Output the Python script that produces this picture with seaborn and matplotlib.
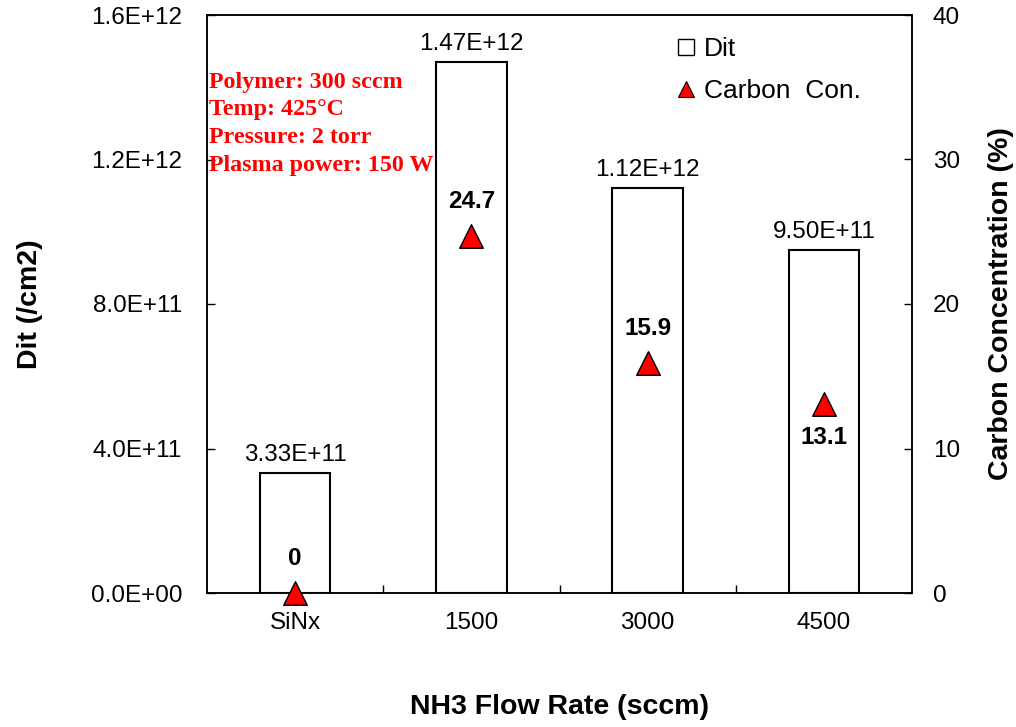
import numpy as np
import pandas as pd
import matplotlib
matplotlib.use("Agg")
import matplotlib.pyplot as plt
from matplotlib.lines import Line2D
from matplotlib.ticker import FuncFormatter, MultipleLocator, FixedLocator
import seaborn as sns

# Data
categories = ["SiNx", "1500", "3000", "4500"]
dit_values = [3.33e11, 1.47e12, 1.12e12, 9.50e11]
carbon_values = [0.0, 24.7, 15.9, 13.1]
carbon_label_above = [True, True, True, False]
process_notes = ["Polymer: 300 sccm", "Temp: 425\u00b0C", "Pressure: 2 torr", "Plasma power: 150 W"]

sns.set_style("ticks")
plt.rcParams["font.family"] = ["Liberation Sans", "DejaVu Sans"]
plt.rcParams.update({"text.color": "black", "axes.labelcolor": "black",
                     "xtick.color": "black", "ytick.color": "black",
                     "axes.edgecolor": "black"})

fig = plt.figure(figsize=(10.16, 7.27), dpi=100)
W, H = 1016, 727
ax = fig.add_axes([207 / W, 1 - 593 / H, (912 - 207) / W, (593 - 15) / H])

df = pd.DataFrame({"cat": categories, "dit": dit_values})
sns.barplot(data=df, x="cat", y="dit", color="white", edgecolor="black",
            linewidth=1.5, width=0.4, saturation=1, ax=ax)
for p in ax.patches:
    p.set_facecolor("white")

ax.set_xlim(-0.5, len(categories) - 0.5)
ax.set_ylim(0, 1.6e12)
ax.yaxis.set_major_locator(MultipleLocator(4e11))
ax.yaxis.set_major_formatter(FuncFormatter(lambda v, _: f"{v:.1E}"))
ax.tick_params(axis="y", direction="in", length=6, width=1, labelsize=17.5, pad=18)
ax.tick_params(axis="x", which="major", length=0, labelsize=17.5, pad=14)
ax.xaxis.set_minor_locator(FixedLocator(np.arange(0.5, len(categories) - 1, 1.0)))
ax.tick_params(axis="x", which="minor", direction="in", length=6, width=1)

# Values above the bars
ax.bar_label(ax.containers[0], labels=[f"{v:.2E}" for v in dit_values],
             padding=5, fontsize=17.5)

ax.set_xlabel("NH3 Flow Rate (sccm)", fontsize=20.5, fontweight="bold", labelpad=43)
ax.set_ylabel("Dit (/cm2)", fontsize=20.5, fontweight="bold", labelpad=34)

for s in ax.spines.values():
    s.set_linewidth(1.1)
    s.set_color("black")

# Carbon concentration on the secondary axis
ax2 = ax.twinx()
pos = np.arange(len(categories))
sns.scatterplot(x=pos, y=carbon_values, marker="^", s=17 ** 2, color="red",
                edgecolor="black", linewidth=1.0, ax=ax2, zorder=5, legend=False)
for coll in ax2.collections:
    coll.set_clip_on(False)
ax2.set_ylim(0, 40)
ax2.set_xlim(-0.5, len(categories) - 0.5)
ax2.yaxis.set_major_locator(MultipleLocator(10))
ax2.tick_params(axis="y", direction="in", length=6, width=1, labelsize=17.5, pad=15)
ax2.set_ylabel("Carbon Concentration (%)", fontsize=20.5, fontweight="bold", labelpad=20)
for s in ax2.spines.values():
    s.set_linewidth(1.1)
    s.set_color("black")

for x, v, above in zip(pos, carbon_values, carbon_label_above):
    ax2.annotate(f"{v:g}", (x, v), xytext=(0, 25 if above else -24),
                 textcoords="offset points", ha="center", va="center",
                 fontsize=17.5, fontweight="bold", clip_on=False)

# Process conditions
ax.text(0.003, 0.902, "\n".join(process_notes), transform=ax.transAxes,
        ha="left", va="top", color="red", fontsize=17.3, fontweight="bold",
        family=["Liberation Serif", "DejaVu Serif"], linespacing=1.42)

handles = [
    Line2D([], [], marker="s", linestyle="none", markersize=11,
           markerfacecolor="white", markeredgecolor="black", markeredgewidth=1.0),
    Line2D([], [], marker="^", linestyle="none", markersize=12,
           markerfacecolor="red", markeredgecolor="black", markeredgewidth=0.8),
]
ax2.legend(handles, ["Dit", "Carbon  Con."], loc="upper left",
           bbox_to_anchor=(675 / W, 1 - 37 / H), bbox_transform=fig.transFigure,
           frameon=False, fontsize=19, handlelength=0.8, handletextpad=0.3,
           labelspacing=0.7, borderpad=0, borderaxespad=0)

fig.savefig("out.png", dpi=100)
